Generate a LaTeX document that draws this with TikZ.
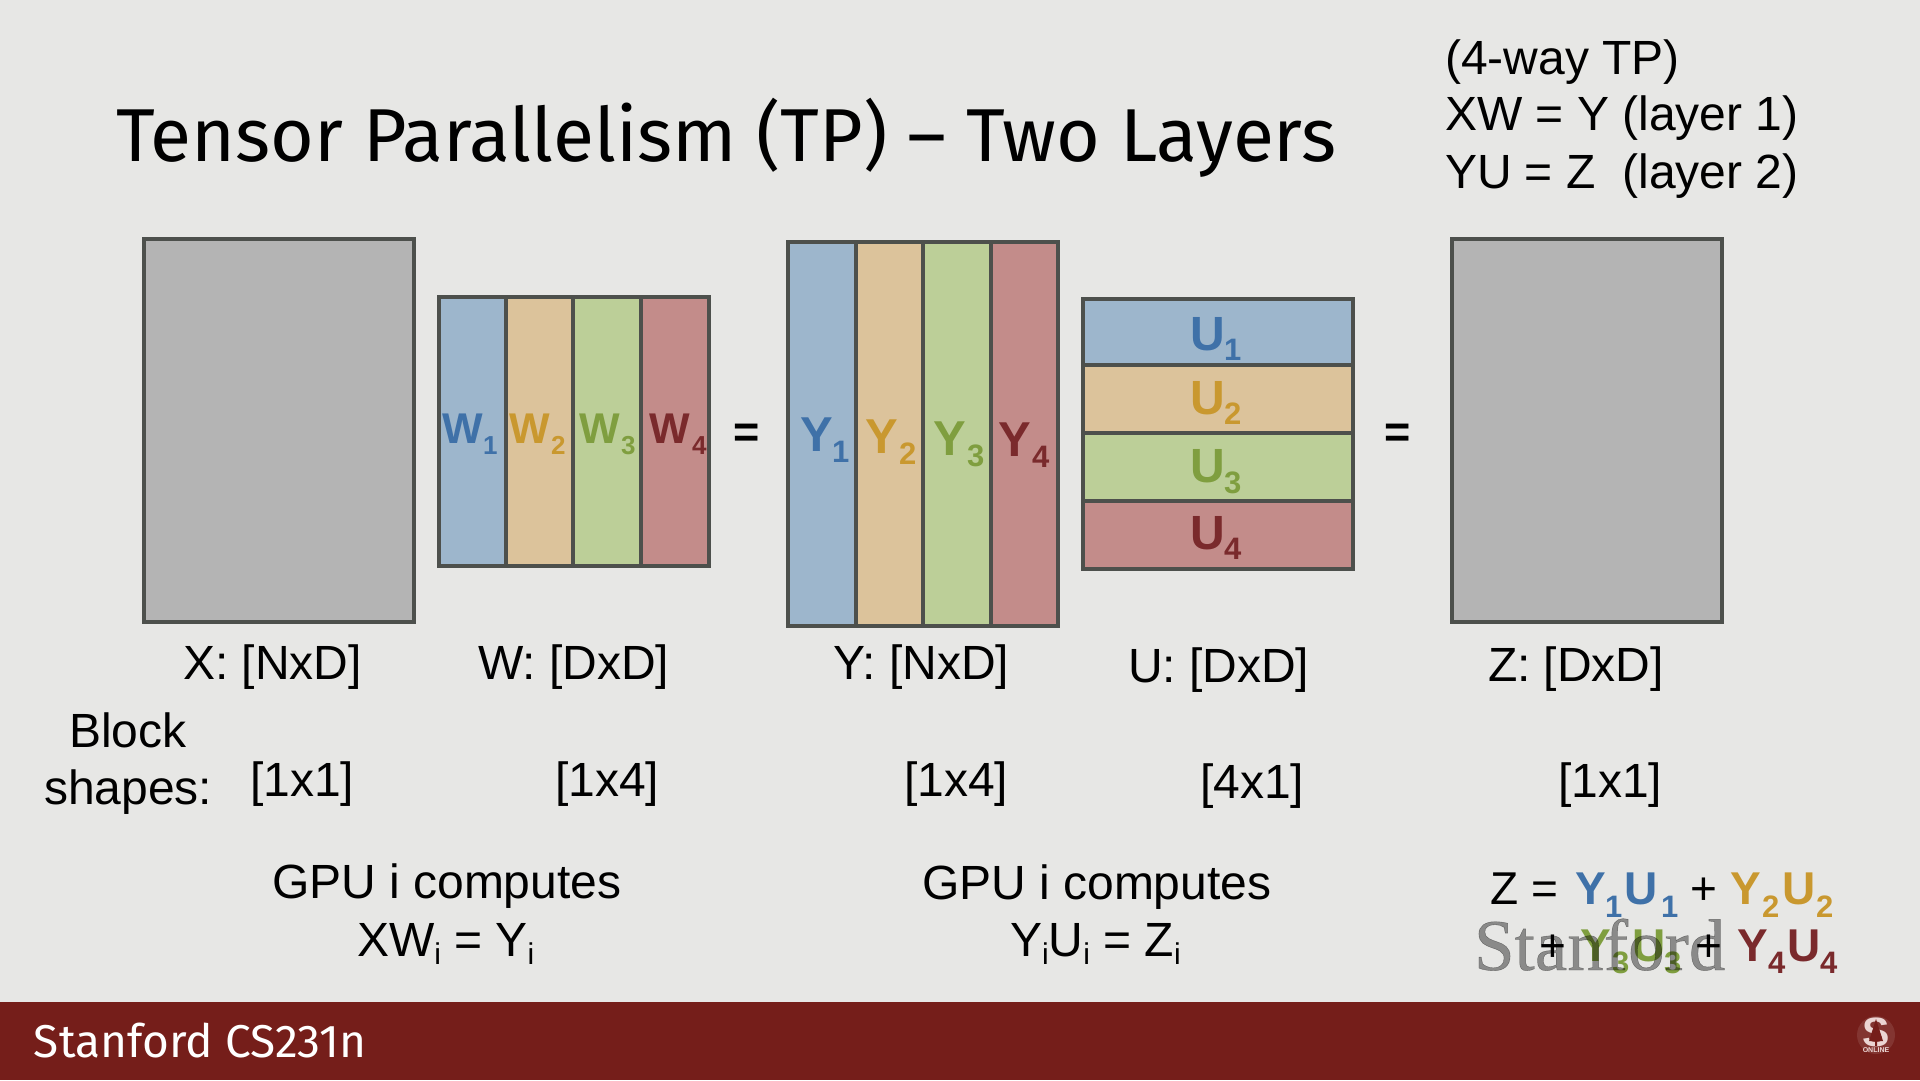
\documentclass[tikz,border=0pt]{standalone}
\usepackage{fontspec}
\setmainfont{Liberation Sans}
\newfontfamily\titlefont{Fira Sans}
\newfontfamily\wmfont[FakeBold=0.5]{Liberation Serif}
\definecolor{bgc}{HTML}{E7E7E5}
\definecolor{barc}{HTML}{751E1A}
\definecolor{edgec}{HTML}{4D504C}
\definecolor{grayc}{HTML}{B4B4B4}
\definecolor{fa}{HTML}{9DB6CC}
\definecolor{fb}{HTML}{DCC39B}
\definecolor{fc}{HTML}{BCCF98}
\definecolor{fd}{HTML}{C38C8A}
\definecolor{ta}{HTML}{3F71A8}
\definecolor{tb}{HTML}{C9982F}
\definecolor{tc}{HTML}{7F9E3F}
\definecolor{td}{HTML}{7A2A2C}
\definecolor{logoc}{HTML}{EBD5D3}
\newcommand\fsz[1]{\fontsize{#1}{#1}\selectfont}
\newcommand\lowsub[3]{\raisebox{-#3pt}{\fsz{#2}#1}}
% name, x, y, size, text
\newcommand\lab[5]{\node[txt] (#1) at (#2,#3) {\fsz{#4}#5};}
% name, x, y, size, colour, bold text
\newcommand\blab[6]{\node[txt,text=#5] (#1) at (#2,#3) {\fsz{#4}\bfseries #6};}
\tikzset{
 txt/.style={anchor=base west,inner sep=0pt,outer sep=0pt,text=black},
 mat/.style={draw=edgec,line width=4.8pt,line join=miter},
 sep/.style={draw=edgec,line width=4.8pt}
}
\begin{document}
\begin{tikzpicture}[x=1pt,y=-1pt]
\useasboundingbox (0,0) rectangle (1920,1080);
\fill[bgc] (0,0) rectangle (1920,1080);
\fill[barc] (0,1002) rectangle (1920,1080);
% title
\node[txt,font=\titlefont] (title) at (116,161) {\fsz{75}Tensor Parallelism (TP) – Two Layers};
\lab{t1}{1445}{74}{48}{(4-way TP)}
\lab{t2}{1445}{130}{48}{XW = Y (layer 1)}
\lab{t3}{1445}{188}{48}{YU = Z\ \ (layer 2)}
% X
\fill[grayc] (144,239) rectangle (414,622);
\draw[mat] (144,239) rectangle (414,622);
% W
\fill[fa] (439,297) rectangle (506,566);
\fill[fb] (506,297) rectangle (573,566);
\fill[fc] (573,297) rectangle (641,566);
\fill[fd] (641,297) rectangle (709,566);
\draw[sep] (506,297) -- (506,566) (573,297) -- (573,566) (641,297) -- (641,566);
\draw[mat] (439,297) rectangle (709,566);
% Y
\fill[fa] (788,242) rectangle (856,626);
\fill[fb] (856,242) rectangle (923,626);
\fill[fc] (923,242) rectangle (991,626);
\fill[fd] (991,242) rectangle (1058,626);
\draw[sep] (856,242) -- (856,626) (923,242) -- (923,626) (991,242) -- (991,626);
\draw[mat] (788,242) rectangle (1058,626);
% U
\fill[fa] (1083,299) rectangle (1353,365);
\fill[fb] (1083,365) rectangle (1353,433);
\fill[fc] (1083,433) rectangle (1353,501);
\fill[fd] (1083,501) rectangle (1353,569);
\draw[sep] (1083,365) -- (1353,365) (1083,433) -- (1353,433) (1083,501) -- (1353,501);
\draw[mat] (1083,299) rectangle (1353,569);
% Z
\fill[grayc] (1452,239) rectangle (1722,622);
\draw[mat] (1452,239) rectangle (1722,622);
% W letters
\blab{w1}{442}{443}{43}{ta}{W}\blab{w1s}{483}{454}{26}{ta}{1}
\blab{w2}{509}{443}{43}{tb}{W}\blab{w2s}{551}{454}{26}{tb}{2}
\blab{w3}{579}{443}{43}{tc}{W}\blab{w3s}{621}{454}{26}{tc}{3}
\blab{w4}{649}{443}{43}{td}{W}\blab{w4s}{692}{454}{26}{td}{4}
% Y letters
\blab{y1}{800}{451}{49}{ta}{Y}\blab{y1s}{832}{462}{31}{ta}{1}
\blab{y2}{865}{453}{49}{tb}{Y}\blab{y2s}{899}{464}{31}{tb}{2}
\blab{y3}{933}{455}{49}{tc}{Y}\blab{y3s}{967}{466}{31}{tc}{3}
\blab{y4}{998}{456}{49}{td}{Y}\blab{y4s}{1032}{467}{31}{td}{4}
% U letters
\blab{u1}{1190}{350}{48}{ta}{U}\blab{u1s}{1224}{360}{31}{ta}{1}
\blab{u2}{1190}{414}{48}{tb}{U}\blab{u2s}{1224}{424}{31}{tb}{2}
\blab{u3}{1190}{482}{48}{tc}{U}\blab{u3s}{1224}{493}{31}{tc}{3}
\blab{u4}{1190}{549}{48}{td}{U}\blab{u4s}{1224}{559}{31}{td}{4}
% equals
\node[inner sep=0pt] (eq1) at (747,436) {\fsz{45}\bfseries =};
\node[inner sep=0pt] (eq2) at (1398,436) {\fsz{45}\bfseries =};
% dims
\lab{dx}{183}{679}{48}{X: [NxD]}
\lab{dw}{478}{679}{48}{W: [DxD]}
\lab{dy}{833}{679}{48}{Y: [NxD]}
\lab{du}{1128}{682}{48}{U: [DxD]}
\lab{dz}{1488}{681}{48}{Z: [DxD]}
\lab{b1}{69}{747}{48}{Block}
\lab{b2}{44}{804}{48}{shapes:}
\lab{s1}{250}{796}{48}{[1x1]}
\lab{s2}{555}{796}{48}{[1x4]}
\lab{s3}{904}{796}{48}{[1x4]}
\lab{s4}{1200}{798}{48}{[4x1]}
\lab{s5}{1558}{797}{48}{[1x1]}
% GPU
\lab{g1}{272}{898}{48}{GPU i computes}
\lab{g2}{357}{956}{48}{XW\lowsub{i}{30}{8} = Y\lowsub{i}{30}{8}}
\lab{g3}{922}{899}{48}{GPU i computes}
\lab{g4}{1010}{956}{48}{Y\lowsub{i}{30}{8}U\lowsub{i}{30}{8} = Z\lowsub{i}{30}{8}}
% Z equation
\lab{ze}{1490}{904}{46}{Z}
\lab{zq}{1531}{904}{46}{=}
\blab{e1}{1575}{904}{46}{ta}{Y}\blab{e1s}{1605}{917}{31}{ta}{1}
\blab{e2}{1624}{904}{46}{ta}{U}\blab{e2s}{1661}{917}{31}{ta}{1}
\lab{ep1}{1690}{904}{46}{+}
\blab{e3}{1730}{904}{46}{tb}{Y}\blab{e3s}{1762}{917}{31}{tb}{2}
\blab{e4}{1782}{904}{46}{tb}{U}\blab{e4s}{1816}{917}{31}{tb}{2}
\lab{ep2}{1539}{961}{46}{+}
\blab{f1}{1580}{961}{46}{tc}{Y}\blab{f1s}{1612}{973}{31}{tc}{3}
\blab{f2}{1632}{961}{46}{tc}{U}\blab{f2s}{1664}{973}{31}{tc}{3}
\lab{ep3}{1695}{961}{46}{+}
\blab{f3}{1737}{961}{46}{td}{Y}\blab{f3s}{1768}{973}{31}{td}{4}
\blab{f4}{1787}{961}{46}{td}{U}\blab{f4s}{1820}{973}{31}{td}{4}
% watermark
\node[txt,font=\wmfont,text=black,text opacity=0.4] (wm) at (1474,970) {\fsz{73}Stanford};
% footer
\node[txt,font=\titlefont,text=white] (foot) at (34,1057) {\fsz{46}Stanford CS231n};
% logo
\fill[barc!90!white] (1876,1035) circle (19);
\node[inner sep=0pt,text=logoc,font=\bfseries] (logoS) at (1876,1032) {\fsz{41}S};
\fill[barc] (1876,1019) -- (1883,1041) -- (1877,1041) -- (1877,1046) -- (1875,1046) -- (1875,1041) -- (1869,1041) -- cycle;
\node[inner sep=0pt,text=logoc,font=\bfseries] (logoO) at (1876,1050) {\fsz{7}ONLINE};
\end{tikzpicture}
\end{document}
